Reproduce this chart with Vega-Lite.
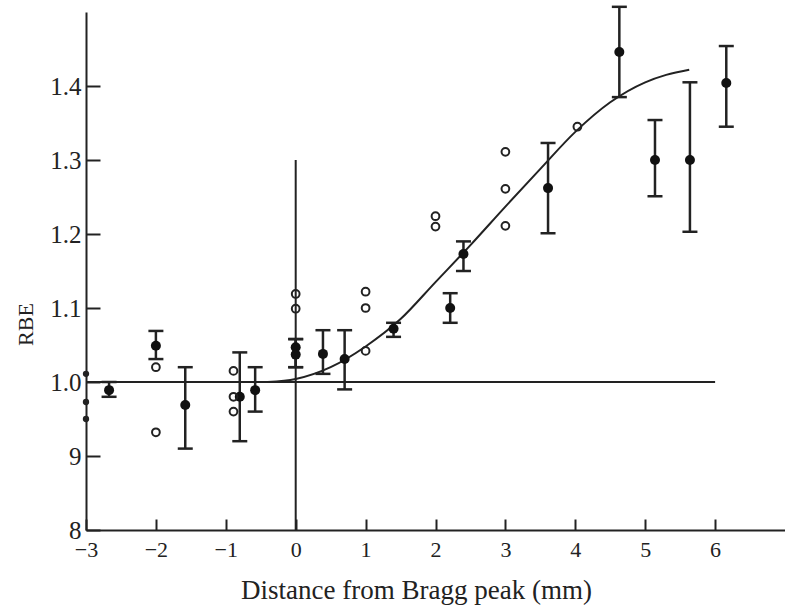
{
  "$schema": "https://vega.github.io/schema/vega-lite/v6.json",
  "width": 699,
  "height": 518,
  "autosize": "none",
  "padding": {"left": 86, "top": 12, "right": 0, "bottom": 75},
  "background": "white",
  "config": {
    "view": {"stroke": null},
    "font": "Liberation Serif",
    "axis": {
      "grid": false,
      "domainColor": "#222",
      "domainWidth": 2,
      "tickColor": "#222",
      "tickWidth": 2,
      "labelFont": "Liberation Serif",
      "labelColor": "#222",
      "titleFont": "Liberation Serif",
      "titleFontWeight": "normal",
      "titleColor": "#222"
    }
  },
  "datasets": {
    "curve": [
      {"x": -0.4, "rbe": 1.0},
      {"x": 0.0, "rbe": 1.004},
      {"x": 0.5, "rbe": 1.02},
      {"x": 1.0, "rbe": 1.048},
      {"x": 1.5, "rbe": 1.085},
      {"x": 2.0, "rbe": 1.135},
      {"x": 2.5, "rbe": 1.185},
      {"x": 3.0, "rbe": 1.237},
      {"x": 3.5, "rbe": 1.288},
      {"x": 4.0, "rbe": 1.338},
      {"x": 4.5, "rbe": 1.378},
      {"x": 5.0, "rbe": 1.405},
      {"x": 5.3, "rbe": 1.415},
      {"x": 5.63, "rbe": 1.422}
    ],
    "measured": [
      {"x": -2.67, "rbe": 0.989, "lo": 0.98, "hi": 1.0},
      {"x": -2.0, "rbe": 1.049, "lo": 1.031, "hi": 1.069},
      {"x": -1.58, "rbe": 0.969, "lo": 0.91, "hi": 1.02},
      {"x": -0.8, "rbe": 0.98, "lo": 0.92, "hi": 1.04},
      {"x": -0.58, "rbe": 0.989, "lo": 0.96, "hi": 1.02},
      {"x": 0.0, "rbe": 1.047, "lo": 1.02, "hi": 1.058},
      {"x": 0.0, "rbe": 1.037, "lo": 1.02, "hi": 1.058},
      {"x": 0.39, "rbe": 1.038, "lo": 1.011, "hi": 1.07},
      {"x": 0.7, "rbe": 1.031, "lo": 0.99, "hi": 1.07},
      {"x": 1.4, "rbe": 1.072, "lo": 1.061, "hi": 1.08},
      {"x": 2.21, "rbe": 1.1, "lo": 1.08, "hi": 1.12},
      {"x": 2.4, "rbe": 1.173, "lo": 1.15, "hi": 1.19},
      {"x": 3.61, "rbe": 1.262, "lo": 1.201, "hi": 1.323},
      {"x": 4.63, "rbe": 1.446, "lo": 1.385, "hi": 1.507},
      {"x": 5.14, "rbe": 1.3, "lo": 1.251, "hi": 1.354},
      {"x": 5.64, "rbe": 1.3, "lo": 1.203, "hi": 1.405},
      {"x": 6.16, "rbe": 1.404, "lo": 1.345, "hi": 1.454}
    ],
    "edge": [
      {"x": -3.0, "rbe": 1.011},
      {"x": -3.0, "rbe": 0.973},
      {"x": -3.0, "rbe": 0.95}
    ],
    "single": [
      {"x": -2.0, "rbe": 1.02},
      {"x": -2.0, "rbe": 0.932},
      {"x": -0.89, "rbe": 1.015},
      {"x": -0.89, "rbe": 0.98},
      {"x": -0.89, "rbe": 0.96},
      {"x": 0.0, "rbe": 1.119},
      {"x": 0.0, "rbe": 1.099},
      {"x": 1.0, "rbe": 1.122},
      {"x": 1.0, "rbe": 1.1},
      {"x": 1.0, "rbe": 1.042},
      {"x": 2.0, "rbe": 1.224},
      {"x": 2.0, "rbe": 1.21},
      {"x": 3.0, "rbe": 1.311},
      {"x": 3.0, "rbe": 1.261},
      {"x": 3.0, "rbe": 1.211},
      {"x": 4.03, "rbe": 1.345}
    ]
  },
  "encoding": {
    "x": {
      "field": "x",
      "type": "quantitative",
      "scale": {"domain": [-3, 7], "nice": false, "zero": false},
      "axis": {
        "title": "Distance from Bragg peak (mm)",
        "values": [-3, -2, -1, 0, 1, 2, 3, 4, 5, 6],
        "tickSize": -11,
        "labelFontSize": 22,
        "labelPadding": 20,
        "labelFlush": false,
        "titleFontSize": 27,
        "titleX": 330,
        "titleY": 68,
        "titleBaseline": "alphabetic"
      }
    },
    "y": {
      "field": "rbe",
      "type": "quantitative",
      "scale": {"domain": [0.8, 1.5], "nice": false, "zero": false},
      "axis": {
        "title": "RBE",
        "values": [0.8, 0.9, 1.0, 1.1, 1.2, 1.3, 1.4],
        "labelExpr": "datum.value < 0.85 ? '8' : datum.value < 0.95 ? '9' : format(datum.value, '.1f')",
        "tickSize": -14,
        "labelFontSize": 25,
        "labelPadding": 19,
        "labelFlush": false,
        "titleFontSize": 22,
        "titleX": -61,
        "titleY": 312,
        "titleAngle": 270,
        "titleAlign": "center",
        "titleBaseline": "middle"
      }
    }
  },
  "layer": [
    {
      "data": {"values": [{"x": -3, "x2": 6, "rbe": 1.0}]},
      "mark": {"type": "rule", "color": "#222", "strokeWidth": 2},
      "encoding": {"x2": {"field": "x2"}}
    },
    {
      "data": {"values": [{"x": 0, "rbe": 0.8, "rbe2": 1.3}]},
      "mark": {"type": "rule", "color": "#222", "strokeWidth": 2},
      "encoding": {"y2": {"field": "rbe2"}}
    },
    {
      "data": {"name": "curve"},
      "mark": {"type": "line", "color": "#222", "strokeWidth": 2, "interpolate": "monotone"},
      "encoding": {}
    },
    {
      "data": {"name": "measured"},
      "mark": {"type": "rule", "color": "#222", "strokeWidth": 2.5, "clip": false},
      "encoding": {"y": {"field": "lo", "type": "quantitative"}, "y2": {"field": "hi"}}
    },
    {
      "data": {"name": "measured"},
      "mark": {"type": "tick", "orient": "horizontal", "color": "#222", "size": 15, "thickness": 2.5, "opacity": 1, "clip": false},
      "encoding": {"y": {"field": "lo", "type": "quantitative"}}
    },
    {
      "data": {"name": "measured"},
      "mark": {"type": "tick", "orient": "horizontal", "color": "#222", "size": 15, "thickness": 2.5, "opacity": 1, "clip": false},
      "encoding": {"y": {"field": "hi", "type": "quantitative"}}
    },
    {
      "data": {"name": "measured"},
      "mark": {"type": "point", "shape": "circle", "filled": true, "color": "#111", "size": 100, "opacity": 1},
      "encoding": {}
    },
    {
      "data": {"name": "edge"},
      "mark": {"type": "point", "shape": "circle", "filled": true, "color": "#222", "size": 40, "opacity": 1},
      "encoding": {}
    },
    {
      "data": {"name": "single"},
      "mark": {"type": "point", "shape": "circle", "filled": false, "color": "#222", "strokeWidth": 2, "size": 60, "opacity": 1},
      "encoding": {}
    }
  ]
}
